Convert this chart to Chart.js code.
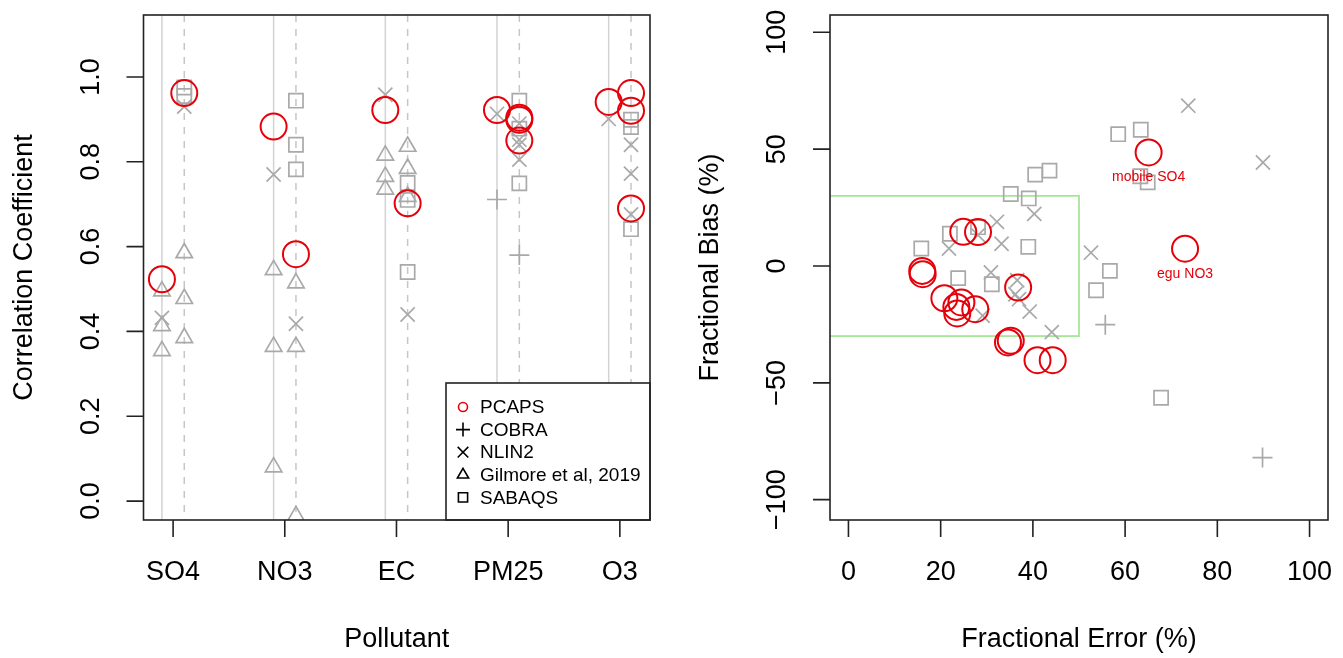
<!DOCTYPE html>
<html>
<head>
<meta charset="utf-8">
<script src="https://cdn.jsdelivr.net/npm/chart.js@4.4.0/dist/chart.umd.min.js"></script>
<style>
html, body { margin: 0; padding: 0; background: #fff; }
#wrap { position: relative; width: 1343px; height: 658px; }
#left { position: absolute; left: 0; top: 0; }
#right { position: absolute; left: 680px; top: 0; }
</style>
</head>
<body>
<div id="wrap">
<canvas id="left" width="680" height="658"></canvas>
<canvas id="right" width="663" height="658"></canvas>
</div>
<script>
// ---- left panel: correlation coefficient by pollutant ----
const pollutants = ['SO4', 'NO3', 'EC', 'PM25', 'O3'];
const corrTicks = [0, 0.2, 0.4, 0.6, 0.8, 1.0];
const corrTickLabels = ['0.0', '0.2', '0.4', '0.6', '0.8', '1.0'];
// A = solid guide (left of tick), B = dashed guide (right of tick)
const pcapsA   = [[0.523], [0.883], [0.922], [0.922], [0.941]];
const pcapsB   = [[0.962], [0.582], [0.702], [0.904, 0.899, 0.85], [0.962, 0.92, 0.69]];
const cobraA   = [[], [], [], [0.711], []];
const cobraB   = [[], [], [], [0.58], []];
const nlin2A   = [[0.432], [0.77], [0.958], [0.913], [0.901]];
const nlin2B   = [[0.93], [0.418], [0.44], [0.89, 0.852, 0.84, 0.805], [0.84, 0.772, 0.676]];
const gilmoreA = [[0.495, 0.413, 0.354], [0.545, 0.364, 0.08], [0.815, 0.765, 0.735], [], []];
const gilmoreB = [[0.585, 0.477, 0.385], [0.514, 0.364, -0.035], [0.836, 0.784, 0.718], [], []];
const sabaqsB  = [[0.975, 0.955], [0.944, 0.84, 0.782], [0.75, 0.71, 0.54], [0.944, 0.878, 0.749], [0.899, 0.882, 0.641]];

// ---- right panel: fractional error vs fractional bias (%) ----
const feTicks = [0, 20, 40, 60, 80, 100];
const fbTicks = [-100, -50, 0, 50, 100];
const fbTickLabels = ['\u2212100', '\u221250', '0', '50', '100'];
const pcapsFE = [16.0, 16.1, 24.9, 28.1, 20.8, 24.5, 23.4, 23.6, 27.5, 36.8, 34.6, 35.2, 41.0, 44.3, 65.1, 73.0];
const pcapsFB = [-2.1, -3.5, 14.6, 14.5, -13.8, -15.6, -17.5, -20.3, -18.5, -9.2, -32.7, -32.0, -40.3, -40.3, 48.6, 7.4];
const pcapsNotes = ['', '', '', '', '', '', '', '', '', '', '', '', '', '', 'mobile SO4', 'egu NO3'];
const cobraFE = [55.7, 89.8];
const cobraFB = [-25.1, -82.0];
const nlin2FE = [21.8, 28.1, 32.2, 33.2, 30.9, 40.3, 36.6, 36.2, 37.0, 39.3, 29.1, 44.1, 52.6, 73.7, 89.9];
const nlin2FB = [7.5, 13.2, 18.9, 9.5, -2.8, 22.3, -6.1, -12.1, -14.2, -19.5, -21.3, -28.3, 5.7, 68.6, 44.3];
const sabaqsFE = [15.8, 22.0, 28.1, 23.8, 31.1, 35.2, 39.1, 39.0, 40.5, 43.6, 53.7, 56.7, 58.5, 63.4, 63.3, 64.9, 67.8];
const sabaqsFB = [7.5, 13.8, 16.6, -5.2, -7.8, 30.8, 28.9, 8.2, 39.1, 40.8, -10.4, -2.1, 56.4, 58.3, 38.4, 35.8, -56.4];
// performance goal box: |FB| <= 30, FE <= 50
const goalFE = 50;
const goalFB = 30;

const FONT = '"Liberation Sans", Arial, Helvetica, sans-serif';
const RED = '#e6000a';
const GRAY = '#a9a9a9';
const INK = '#222';

const marks = {
    PCAPS:   { style: 'circle',   r: 13,  color: RED,  w: 2 },
    COBRA:   { style: 'cross',    r: 10,  color: GRAY, w: 1.7 },
    NLIN2:   { style: 'crossRot', r: 10,  color: GRAY, w: 1.7 },
    Gilmore: { style: 'triangle', r: 9.5, color: GRAY, w: 1.7 },
    SABAQS:  { style: 'rect',     r: 10,  color: GRAY, w: 1.7 }
};

function byCategory(lists, offset) {
    const out = [];
    lists.forEach((vals, i) => vals.forEach(v => out.push({ x: i + 1 + offset, y: v })));
    return out;
}
function pairs(xs, ys) {
    return xs.map((x, i) => ({ x: x, y: ys[i] }));
}
function ds(label, data, m) {
    return {
        label: label, data: data,
        pointStyle: m.style, pointRadius: m.r, pointHoverRadius: m.r,
        borderColor: m.color, pointBorderColor: m.color,
        backgroundColor: 'rgba(0,0,0,0)', pointBackgroundColor: 'rgba(0,0,0,0)',
        borderWidth: m.w, pointBorderWidth: m.w, pointHoverBorderWidth: m.w,
        showLine: false, clip: 0
    };
}

function rotText(ctx, text, x, y) {
    ctx.save();
    ctx.translate(x, y);
    ctx.rotate(-Math.PI / 2);
    ctx.fillText(text, 0, 0);
    ctx.restore();
}

// draws the R-like frame: box, outward ticks, labels, titles
function frame(o) {
    return {
        id: 'frame',
        beforeDraw(chart) {
            const ctx = chart.ctx;
            ctx.save();
            ctx.fillStyle = '#fff';
            ctx.fillRect(0, 0, chart.width, chart.height);
            ctx.restore();
        },
        beforeDatasetsDraw(chart) {
            if (o.under) o.under(chart);
        },
        afterDatasetsDraw(chart) {
            const ctx = chart.ctx;
            const a = chart.chartArea;
            const x = chart.scales.x, y = chart.scales.y;
            if (o.over) o.over(chart);
            ctx.save();
            ctx.strokeStyle = INK;
            ctx.lineWidth = 1.6;
            ctx.strokeRect(a.left, a.top, a.right - a.left, a.bottom - a.top);
            ctx.beginPath();
            o.xTicks.forEach(v => {
                const px = x.getPixelForValue(v);
                ctx.moveTo(px, a.bottom);
                ctx.lineTo(px, a.bottom + 17);
            });
            o.yTicks.forEach(v => {
                const py = y.getPixelForValue(v);
                ctx.moveTo(a.left, py);
                ctx.lineTo(a.left - 17, py);
            });
            ctx.stroke();
            ctx.fillStyle = '#000';
            ctx.font = '27px ' + FONT;
            ctx.textAlign = 'center';
            ctx.textBaseline = 'middle';
            o.xTicks.forEach((v, i) => ctx.fillText(o.xLabels[i], x.getPixelForValue(v), a.bottom + 53));
            o.yTicks.forEach((v, i) => rotText(ctx, o.yLabels[i], a.left - 52, y.getPixelForValue(v)));
            ctx.fillText(o.xTitle, (a.left + a.right) / 2, a.bottom + 120);
            rotText(ctx, o.yTitle, a.left - 119, (a.top + a.bottom) / 2);
            ctx.restore();
        }
    };
}

const baseOptions = {
    responsive: false,
    animation: false,
    devicePixelRatio: 1,
    events: [],
    plugins: { legend: { display: false }, tooltip: { enabled: false } }
};

// ---- left chart ----
const legendItems = [
    ['PCAPS', 'circle', 4.5, RED],
    ['COBRA', 'cross', 7, '#000'],
    ['NLIN2', 'crossRot', 7.5, '#000'],
    ['Gilmore et al, 2019', 'triangle', 6.5, '#000'],
    ['SABAQS', 'rect', 6.5, '#000']
];

new Chart(document.getElementById('left'), {
    type: 'scatter',
    data: {
        datasets: [
            ds('PCAPS', byCategory(pcapsA, -0.1).concat(byCategory(pcapsB, 0.1)), marks.PCAPS),
            ds('COBRA', byCategory(cobraA, -0.1).concat(byCategory(cobraB, 0.1)), marks.COBRA),
            ds('NLIN2', byCategory(nlin2A, -0.1).concat(byCategory(nlin2B, 0.1)), marks.NLIN2),
            ds('Gilmore et al, 2019', byCategory(gilmoreA, -0.1).concat(byCategory(gilmoreB, 0.1)), marks.Gilmore),
            ds('SABAQS', byCategory(sabaqsB, 0.1), marks.SABAQS)
        ]
    },
    options: Object.assign({}, baseOptions, {
        layout: { padding: { left: 143.5, right: 30, top: 13, bottom: 138 } },
        scales: {
            x: { type: 'linear', display: false, min: 0.735, max: 5.27 },
            y: { type: 'linear', display: false, min: -0.0446, max: 1.146 }
        }
    }),
    plugins: [frame({
        xTicks: pollutants.map((p, i) => i + 1), xLabels: pollutants,
        yTicks: corrTicks, yLabels: corrTickLabels,
        xTitle: 'Pollutant', yTitle: 'Correlation Coefficient',
        under(chart) {
            const ctx = chart.ctx, a = chart.chartArea, x = chart.scales.x;
            ctx.save();
            ctx.lineWidth = 1.5;
            pollutants.forEach((p, i) => {
                ctx.strokeStyle = '#d3d3d3';
                ctx.setLineDash([]);
                ctx.beginPath();
                ctx.moveTo(x.getPixelForValue(i + 0.9), a.top);
                ctx.lineTo(x.getPixelForValue(i + 0.9), a.bottom);
                ctx.stroke();
                ctx.strokeStyle = '#c6c6c6';
                ctx.setLineDash([7, 7]);
                ctx.beginPath();
                ctx.moveTo(x.getPixelForValue(i + 1.1), a.top);
                ctx.lineTo(x.getPixelForValue(i + 1.1), a.bottom);
                ctx.stroke();
            });
            ctx.restore();
        },
        over(chart) {
            const ctx = chart.ctx, a = chart.chartArea;
            const bx = 446, by = 383;
            ctx.save();
            ctx.fillStyle = '#fff';
            ctx.fillRect(bx, by, a.right - bx, a.bottom - by);
            ctx.strokeStyle = INK;
            ctx.lineWidth = 1.6;
            ctx.strokeRect(bx, by, a.right - bx, a.bottom - by);
            ctx.font = '19px ' + FONT;
            ctx.textAlign = 'left';
            ctx.textBaseline = 'middle';
            legendItems.forEach((it, i) => {
                const ry = 407 + i * 22.6;
                ctx.strokeStyle = it[3];
                ctx.fillStyle = 'rgba(0,0,0,0)';
                ctx.lineWidth = 1.6;
                Chart.helpers.drawPoint(ctx, { pointStyle: it[1], radius: it[2], rotation: 0, borderWidth: 1.6 }, 463, ry);
                ctx.fillStyle = '#000';
                ctx.fillText(it[0], 480, ry + 1);
            });
            ctx.restore();
        }
    })]
});

// ---- right chart ----
new Chart(document.getElementById('right'), {
    type: 'scatter',
    data: {
        datasets: [
            ds('PCAPS', pairs(pcapsFE, pcapsFB), marks.PCAPS),
            ds('COBRA', pairs(cobraFE, cobraFB), marks.COBRA),
            ds('NLIN2', pairs(nlin2FE, nlin2FB), marks.NLIN2),
            ds('SABAQS', pairs(sabaqsFE, sabaqsFB), marks.SABAQS)
        ]
    },
    options: Object.assign({}, baseOptions, {
        layout: { padding: { left: 150, right: 7, top: 13, bottom: 138 } },
        scales: {
            x: { type: 'linear', display: false, min: -4, max: 104 },
            y: { type: 'linear', display: false, min: -108.7, max: 107.4 }
        }
    }),
    plugins: [frame({
        xTicks: feTicks, xLabels: feTicks.map(String),
        yTicks: fbTicks, yLabels: fbTickLabels,
        xTitle: 'Fractional Error (%)', yTitle: 'Fractional Bias (%)',
        under(chart) {
            const ctx = chart.ctx, a = chart.chartArea, x = chart.scales.x, y = chart.scales.y;
            ctx.save();
            ctx.beginPath();
            ctx.rect(a.left, a.top, a.right - a.left, a.bottom - a.top);
            ctx.clip();
            ctx.strokeStyle = '#a6e69a';
            ctx.lineWidth = 1.8;
            const x0 = x.getPixelForValue(-10), x1 = x.getPixelForValue(goalFE);
            const y0 = y.getPixelForValue(goalFB), y1 = y.getPixelForValue(-goalFB);
            ctx.strokeRect(x0, y0, x1 - x0, y1 - y0);
            ctx.restore();
        },
        over(chart) {
            const ctx = chart.ctx, x = chart.scales.x, y = chart.scales.y;
            ctx.save();
            ctx.fillStyle = RED;
            ctx.font = '14px ' + FONT;
            ctx.textAlign = 'center';
            ctx.textBaseline = 'middle';
            pcapsNotes.forEach((t, i) => {
                if (!t) return;
                ctx.fillText(t, x.getPixelForValue(pcapsFE[i]), y.getPixelForValue(pcapsFB[i]) + 25);
            });
            ctx.restore();
        }
    })]
});
</script>
</body>
</html>
